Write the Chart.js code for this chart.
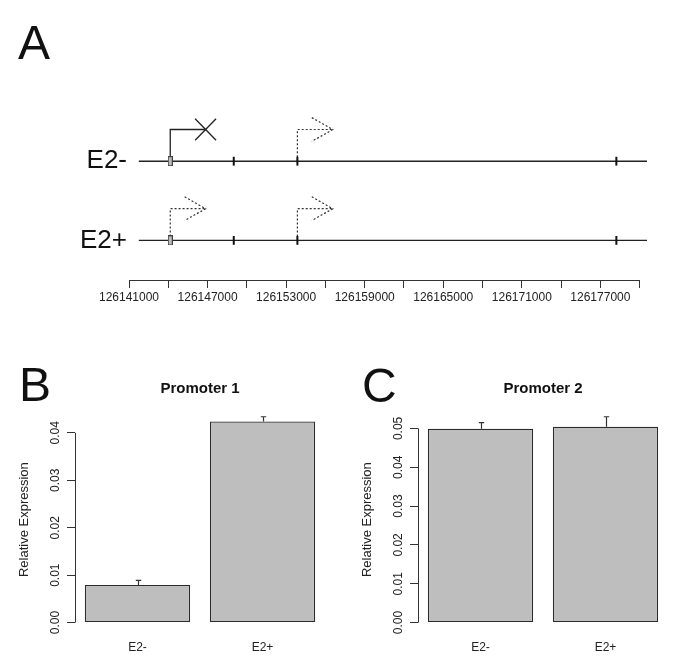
<!DOCTYPE html>
<html>
<head>
<meta charset="utf-8">
<script src="https://cdn.jsdelivr.net/npm/chart.js@4/dist/chart.umd.min.js"></script>
<style>
  body { margin: 0; background: #fff; width: 685px; height: 670px; position: relative; overflow: hidden;
         font-family: "Liberation Sans", Arial, Helvetica, sans-serif; }
  canvas { position: absolute; }
  .panel { position: absolute; font-size: 48px; line-height: 48px; color: #111; }
</style>
</head>
<body>
<canvas id="geneChart" width="685" height="320" style="left:0;top:0"></canvas>
<canvas id="promoter1Chart" width="342" height="330" style="left:0;top:340px"></canvas>
<canvas id="promoter2Chart" width="342" height="330" style="left:343px;top:340px"></canvas>
<div class="panel" style="left:18px;top:19px">A</div>
<div class="panel" style="left:19px;top:361px">B</div>
<div class="panel" style="left:362px;top:362px">C</div>
<script>
// ---- panel A: gene model ----
const trackNames = ["E2-", "E2+"];
const trackY = [1.5, 0.5];
const geneStart = 126141750;
const geneEnd = 126180560;
const firstExon = 126144150;
const exons = [126149000, 126153860, 126178220];
const promoters = [126144150, 126153860];
// "blocked" = solid arrow crossed out, "open" = dotted arrow
const e2MinusPromoters = ["blocked", "open"];
const e2PlusPromoters = ["open", "open"];
const genomeTicks = [126141000, 126144000, 126147000, 126150000, 126153000, 126156000, 126159000,
  126162000, 126165000, 126168000, 126171000, 126174000, 126177000, 126180000];
const genomeTickLabels = ["126141000", "", "126147000", "", "126153000", "", "126159000",
  "", "126165000", "", "126171000", "", "126177000", ""];

// ---- panels B and C: relative expression ----
const conditions = ["E2-", "E2+"];
const promoter1Mean = [0.0079, 0.0424];
const promoter1Err = [0.0010, 0.0010];
const promoter2Mean = [0.0499, 0.0504];
const promoter2Err = [0.0016, 0.0026];
const promoter1Ticks = [0, 0.01, 0.02, 0.03, 0.04];
const promoter2Ticks = [0, 0.01, 0.02, 0.03, 0.04, 0.05];

const FONT = '"Liberation Sans", Arial, Helvetica, sans-serif';
Chart.defaults.font.family = FONT;
Chart.defaults.color = "#222";
Chart.defaults.animation = false;

// arrow shape, in data units
const ARROW_RISE = 0.4;
const ARROW_LEN = 2700;
const HEAD_BACK = 1600;
const HEAD_HALF = 0.15;
const CROSS_X = 800;
const CROSS_Y = 0.135;

// R style axis line: only from first to last tick
const rAxisLine = {
  id: "rAxisLine",
  afterDraw(chart, args, opts) {
    const ctx = chart.ctx;
    (opts.axes || []).forEach((id) => {
      const s = chart.scales[id];
      const a = s.getPixelForValue(s.ticks[0].value);
      const b = s.getPixelForValue(s.ticks[s.ticks.length - 1].value);
      ctx.save();
      ctx.strokeStyle = "#333";
      ctx.lineWidth = 1;
      ctx.beginPath();
      if (s.isHorizontal()) {
        const y = Math.round(s.top) + 0.5;
        ctx.moveTo(a, y);
        ctx.lineTo(b, y);
      } else {
        const x = Math.round(s.right) + 0.5;
        ctx.moveTo(x, a);
        ctx.lineTo(x, b);
      }
      ctx.stroke();
      ctx.restore();
    });
  },
};

// upper error bars on top of the bars
const errorBars = {
  id: "errorBars",
  afterDatasetsDraw(chart, args, opts) {
    const ctx = chart.ctx;
    const y = chart.scales.y;
    const values = chart.data.datasets[0].data;
    chart.getDatasetMeta(0).data.forEach((bar, i) => {
      const base = y.getPixelForValue(values[i]);
      const top = y.getPixelForValue(values[i] + opts.errors[i]);
      const x = Math.round(bar.x) + 0.5;
      ctx.save();
      ctx.strokeStyle = "#333";
      ctx.lineWidth = 1.2;
      ctx.beginPath();
      ctx.moveTo(x, base);
      ctx.lineTo(x, top);
      ctx.moveTo(x - 2.7, top);
      ctx.lineTo(x + 2.7, top);
      ctx.stroke();
      ctx.restore();
    });
  },
};

function promoterDatasets(states, ty) {
  const out = [];
  states.forEach((state, i) => {
    const p = promoters[i];
    const top = ty + ARROW_RISE;
    const end = p + ARROW_LEN;
    const solid = state === "blocked";
    const style = {
      borderColor: solid ? "#222" : "#333",
      borderWidth: solid ? 1.3 : 1.2,
      borderDash: solid ? [] : [2, 2],
      pointRadius: 0,
      fill: false,
      spanGaps: false,
      clip: false,
      order: 3,
    };
    out.push({ ...style, data: [{ x: p, y: ty }, { x: p, y: top }, { x: end, y: top }] });
    if (solid) {
      out.push({
        ...style,
        data: [
          { x: end - CROSS_X, y: top + CROSS_Y }, { x: end + CROSS_X, y: top - CROSS_Y },
          { x: end, y: null },
          { x: end - CROSS_X, y: top - CROSS_Y }, { x: end + CROSS_X, y: top + CROSS_Y },
        ],
      });
    } else {
      out.push({
        ...style,
        data: [{ x: end - HEAD_BACK, y: top + HEAD_HALF }, { x: end, y: top }, { x: end - HEAD_BACK, y: top - HEAD_HALF }],
      });
    }
  });
  return out;
}

function drawGeneChart() {
  const box = document.createElement("canvas");
  box.width = 5;
  box.height = 10;
  const bctx = box.getContext("2d");
  bctx.fillStyle = "#bdbdbd";
  bctx.fillRect(0.5, 0.5, 4, 9);
  bctx.strokeStyle = "#444";
  bctx.lineWidth = 1;
  bctx.strokeRect(0.5, 0.5, 4, 9);

  const datasets = [];
  trackY.forEach((ty) => {
    datasets.push({
      data: [{ x: geneStart, y: ty }, { x: geneEnd, y: ty }],
      borderColor: "#222",
      borderWidth: 1.4,
      pointRadius: 0,
      clip: false,
      order: 4,
    });
  });
  datasets.push({
    data: trackY.flatMap((ty) => exons.map((e) => ({ x: e, y: ty }))),
    showLine: false,
    pointStyle: "line",
    rotation: 90,
    pointRadius: 4.4,
    borderColor: "#111",
    borderWidth: 2,
    clip: false,
    order: 1,
  });
  datasets.push({
    data: trackY.map((ty) => ({ x: firstExon, y: ty })),
    showLine: false,
    pointStyle: box,
    pointRadius: 5,
    clip: false,
    order: 0,
  });
  datasets.push(...promoterDatasets(e2MinusPromoters, trackY[0]));
  datasets.push(...promoterDatasets(e2PlusPromoters, trackY[1]));

  new Chart(document.getElementById("geneChart"), {
    type: "line",
    data: { datasets: datasets },
    options: {
      responsive: false,
      events: [],
      layout: { padding: { left: 69, right: 38, top: 82, bottom: 0 } },
      plugins: {
        legend: { display: false },
        tooltip: { enabled: false },
        rAxisLine: { axes: ["x"] },
      },
      scales: {
        x: {
          type: "linear",
          min: genomeTicks[0],
          max: geneEnd,
          afterBuildTicks: (s) => { s.ticks = genomeTicks.map((v) => ({ value: v })); },
          afterFit: (s) => { s.height = 40; },
          border: { display: false },
          grid: { drawOnChartArea: false, drawTicks: true, tickLength: 8, color: "#333", lineWidth: 1 },
          ticks: {
            autoSkip: false, maxRotation: 0, padding: 2, color: "#222", font: { size: 12 },
            callback: (v, i) => genomeTickLabels[i],
          },
        },
        y: {
          type: "linear",
          min: 0,
          max: 2.5,
          afterBuildTicks: (s) => { s.ticks = [...trackY].sort().map((v) => ({ value: v })); },
          afterFit: (s) => { s.width = 60; },
          border: { display: false },
          grid: { display: false, drawTicks: false },
          ticks: {
            padding: 2, color: "#111", font: { size: 26 },
            callback: (v) => trackNames[trackY.indexOf(v)],
          },
        },
      },
    },
    plugins: [rAxisLine],
  });
}

function drawBarChart(id, title, means, errs, yTicks) {
  // R barplot range: 0 .. max(mean + err), widened by 4% each side
  const top = Math.max(...means.map((m, i) => m + errs[i]));
  new Chart(document.getElementById(id), {
    type: "bar",
    data: {
      labels: conditions,
      datasets: [{
        data: means,
        backgroundColor: "#bebebe",
        borderColor: "#2b2b2b",
        borderWidth: 1.2,
        borderSkipped: false,
        barPercentage: 0.842,
        categoryPercentage: 1,
      }],
    },
    options: {
      responsive: false,
      events: [],
      layout: { padding: { left: 17, right: 17, top: 0, bottom: 0 } },
      plugins: {
        legend: { display: false },
        tooltip: { enabled: false },
        title: {
          display: true, text: title, fullSize: false, color: "#111",
          font: { size: 15, weight: "bold" }, padding: { top: 40.3, bottom: 10.2 },
        },
        errorBars: { errors: errs },
        rAxisLine: { axes: ["y"] },
      },
      scales: {
        x: {
          afterFit: (s) => { s.height = 39.2; },
          border: { display: false },
          grid: { display: false, drawTicks: false },
          ticks: { padding: 10, color: "#222", font: { size: 12 } },
        },
        y: {
          min: -0.04 * top,
          max: 1.04 * top,
          afterBuildTicks: (s) => { s.ticks = yTicks.map((v) => ({ value: v })); },
          afterFit: (s) => { s.width = 58; },
          border: { display: false },
          grid: { drawOnChartArea: false, drawTicks: true, tickLength: 8, color: "#333", lineWidth: 1 },
          title: { display: true, text: "Relative Expression", color: "#222", font: { size: 13 }, padding: 0 },
          ticks: {
            minRotation: 90, maxRotation: 90, crossAlign: "center", padding: 0,
            color: "#222", font: { size: 12 },
            callback: (v) => v.toFixed(2),
          },
        },
      },
    },
    plugins: [errorBars, rAxisLine],
  });
}

drawGeneChart();
drawBarChart("promoter1Chart", "Promoter 1", promoter1Mean, promoter1Err, promoter1Ticks);
drawBarChart("promoter2Chart", "Promoter 2", promoter2Mean, promoter2Err, promoter2Ticks);
</script>
</body>
</html>
